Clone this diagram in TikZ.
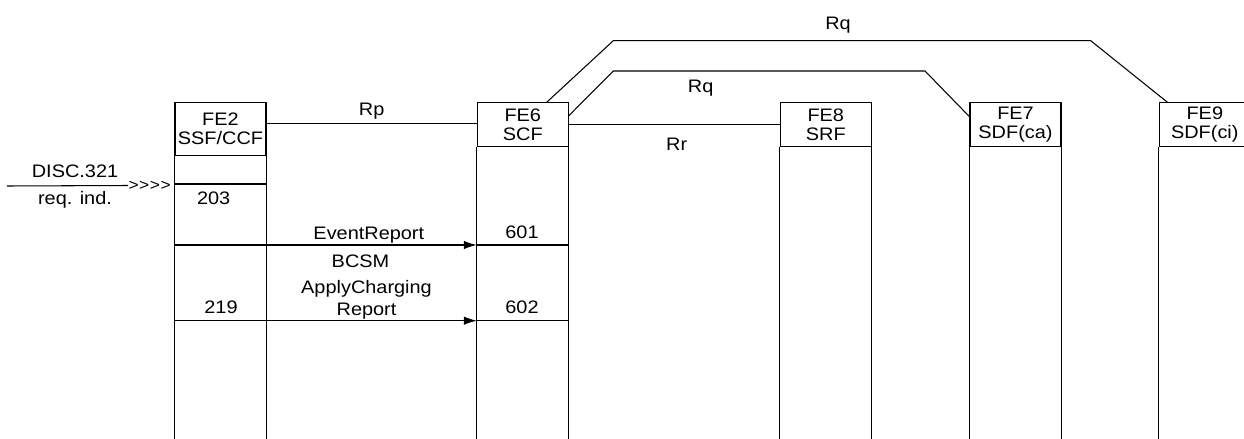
\documentclass[tikz,border=0pt]{standalone}
\usepackage{fontspec}
\setmainfont{Liberation Sans}[FakeStretch=1.1]
\usetikzlibrary{arrows.meta, positioning}

\begin{document}
\begin{tikzpicture}[x=0.02cm, y=-0.02cm, line width=0.6pt,
	every node/.style={font=\fontsize{10.3}{10.8}\selectfont, inner sep=0pt},
	fehead/.style={draw, align=center, minimum width=1.82cm, minimum height=0.88cm},
	msg/.style={-{Latex[length=0.26cm, width=0.17cm]}},
	lbl/.style={anchor=base}]

	\useasboundingbox (0,0) rectangle (1244,439);

	\coordinate (r1) at (0,184);
	\coordinate (r2) at (0,245);
	\coordinate (r3) at (0,320.7);
	\coordinate (bot) at (0,439);

	\node[fehead, minimum height=1.05cm] (fe2) at (220.5,129) {FE2\\SSF/CCF};
	\node[fehead] (fe6) at (522.8,124.7) {FE6\\SCF};
	\node[fehead] (fe8) at (825.8,124.7) {FE8\\SRF};
	\node[fehead] (fe7) at (1015.5,124.7) {FE7\\SDF(ca)};
	\node[fehead] (fe9) at (1204.8,124.7) {FE9\\SDF(ci)};

	\foreach \f in {fe2, fe6, fe8, fe7, fe9}
		\draw (\f.south west) -- (\f.south west |- bot) (\f.south east) -- (\f.south east |- bot);

	\draw (fe2.east) ++(0,-5.3) coordinate (rpa) -- (rpa -| fe6.west);
	\draw (fe6.east) -- (fe8.west);
	\draw ([xshift=0.48cm]fe6.north) -- (613.3,40.7) -- (1090.7,40.7) -- ([xshift=-0.75cm]fe9.north);
	\draw ([yshift=0.18cm]fe6.east) -- (613.3,71) -- (925,71) -- ([yshift=0.16cm]fe7.west);

	\node[lbl] (lrp) at (371.7,115) {Rp};
	\node[lbl] (lrq1) at (838,30) {Rq};
	\node[lbl] (lrq2) at (700.7,92.7) {Rq};
	\node[lbl] (lrr) at (676.7,150.7) {Rr};

	\coordinate (src) at (7,186);
	\node[font=\fontsize{9}{9}\selectfont, anchor=west] (chev) at (128,185.5) {>\kern0.3pt>\kern0.3pt>\kern0.3pt>};
	\draw (src) -- (chev.west);
	\node[lbl] (disc) at (75,177.3) {DISC.321};
	\node[lbl] (reqind) at (75,204) {req. ind.};

	\draw (fe2.west |- r1) -- (fe2.east |- r1);
	\draw (fe2.west |- r2) -- (fe2.east |- r2) (fe6.west |- r2) -- (fe6.east |- r2);
	\draw (fe2.west |- r3) -- (fe2.east |- r3) (fe6.west |- r3) -- (fe6.east |- r3);
	\draw[msg] (fe2.east |- r2) -- (fe6.west |- r2);
	\draw[msg] (fe2.east |- r3) -- (fe6.west |- r3);

	\node[lbl] (n203) at (213.7,204) {203};
	\node[lbl] (n219) at (221,313) {219};
	\node[lbl] (n601) at (522,238.3) {601};
	\node[lbl] (n602) at (522,313) {602};
	\node[lbl] (evr) at (368.8,239.3) {EventReport};
	\node[lbl] (bcsm) at (360.5,267.3) {BCSM};
	\node[align=center, font=\fontsize{10.3}{12.5}\selectfont] (acr) at (366.5,299.5) {ApplyCharging\\Report};
\end{tikzpicture}
\end{document}
